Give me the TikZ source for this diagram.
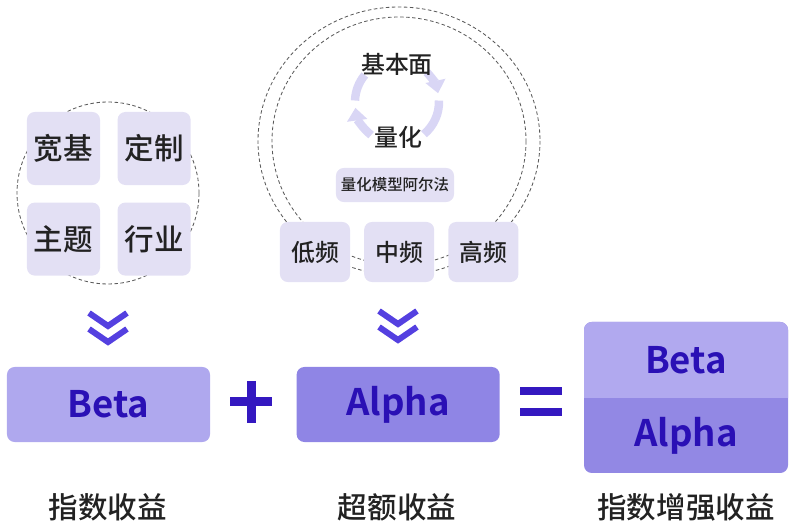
\documentclass[tikz,border=0pt]{standalone}
\usepackage{fontspec}
\setmainfont{Noto Sans CJK SC}[BoldFont={Noto Sans CJK SC Bold}]
\newfontfamily\cjkmed{Noto Sans CJK SC Medium}
\usetikzlibrary{positioning,arrows.meta}

\definecolor{tilefill}{HTML}{E3E0F4}
\definecolor{textdark}{HTML}{222222}
\definecolor{ringgray}{HTML}{5A5A5A}
\definecolor{chevblue}{HTML}{5440E0}
\definecolor{signblue}{HTML}{3418C0}
\definecolor{inkblue}{HTML}{2A10B5}
\definecolor{betafill}{HTML}{AFA8EE}
\definecolor{alphafill}{HTML}{8F85E5}
\definecolor{sumtop}{HTML}{B1A9EF}
\definecolor{sumbot}{HTML}{9288E4}
\definecolor{cyclefill}{HTML}{D9D6F5}

\begin{document}
\begin{tikzpicture}[
    x=0.025cm,y=-0.025cm,
    tile/.style={rectangle,rounded corners=5.5pt,fill=tilefill,minimum width=1.825cm,minimum height=1.825cm,font=\cjkmed\fontsize{21}{25}\selectfont,text=textdark},
    freq/.style={tile,minimum width=1.75cm,minimum height=1.5cm,font=\cjkmed\fontsize{17}{20}\selectfont},
    tag/.style={tile,minimum width=2.95cm,minimum height=0.85cm,font=\cjkmed\fontsize{11}{13}\selectfont},
    ring/.style={draw=ringgray,line width=0.6pt,dash pattern=on 2.5pt off 1.8pt},
    chev/.style={draw=chevblue,line width=4.3pt},
    sign/.style={draw=signblue},
    result/.style={rectangle,rounded corners=5.5pt,minimum width=5.075cm,minimum height=1.875cm,font=\fontsize{26}{30}\selectfont\bfseries,text=inkblue},
    caption/.style={font=\cjkmed\fontsize{21}{25}\selectfont,text=textdark},
    cycle/.style={draw=cyclefill,line width=6pt},
    cycletext/.style={font=\cjkmed\fontsize{17}{20}\selectfont,text=textdark},
  ]
  \useasboundingbox (0,0) rectangle (797,530);

  % left group
  \draw[ring] (108,193) circle[radius=91];
  \node[tile] (kuanji) at (63.5,148.5) {宽基};
  \node[tile,right=0.425cm of kuanji] (dingzhi) {定制};
  \node[tile,below=0.425cm of kuanji] (zhuti) {主题};
  \node[tile,below=0.425cm of dingzhi] (hangye) {行业};

  % middle group
  \draw[ring] (399,141) ellipse[x radius=141,y radius=134];
  \draw[ring] (399,141) ellipse[x radius=127,y radius=124];
  \coordinate (cyc) at (397,102);
  \draw[cycle,-{Triangle[width=14pt,length=9pt]}] (cyc) ++(-45:42) arc[start angle=-45,end angle=-12,radius=42];
  \draw[cycle] (cyc) ++(-2:42) arc[start angle=-2,end angle=50,radius=42];
  \draw[cycle,-{Triangle[width=14pt,length=9pt]}] (cyc) ++(128:42) arc[start angle=128,end angle=172,radius=42];
  \draw[cycle] (cyc) ++(182:42) arc[start angle=182,end angle=220,radius=42];
  \node[cycletext] (jiben) at (397,64) {基本面};
  \node[cycletext] (lianghua) at (398,137) {量化};
  \node[tag] (quanttag) at (395,185) {量化模型阿尔法};
  \node[freq] (dipin) at (315,252) {低频};
  \node[freq,right=0.34cm of dipin] (zhongpin) {中频};
  \node[freq,right=0.34cm of zhongpin] (gaopin) {高频};

  % chevrons
  \draw[chev] (89,313) -- (108,326) -- (127,313);
  \draw[chev] (89,329) -- (108,342) -- (127,329);
  \draw[chev] (379,311) -- (398,324) -- (417,311);
  \draw[chev] (379,327) -- (398,340) -- (417,327);

  % bottom row
  \node[result,fill=betafill] (beta) at (108.5,404.5) {Beta};
  \node[result,fill=alphafill,right=2.15cm of beta] (alpha) {Alpha};
  \draw[sign,line width=6.4pt] (230,402) -- (272,402);
  \draw[sign,line width=6.4pt] (251,381) -- (251,423);
  \draw[sign,line width=5pt] (520,391) -- (562,391);
  \draw[sign,line width=5pt] (520,412) -- (562,412);

  \fill[sumbot,rounded corners=5.5pt] (584,322) rectangle (788,473);
  \begin{scope}
    \clip (584,322) rectangle (788,398);
    \fill[sumtop,rounded corners=5.5pt] (584,322) rectangle (788,473);
  \end{scope}
  \node[result,minimum height=0cm] (sumbeta) at (686,360) {Beta};
  \node[result,minimum height=0cm] (sumalpha) at (686,436) {Alpha};

  \node[caption] (capbeta) at (108,507) {指数收益};
  \node[caption] (capalpha) at (397,507) {超额收益};
  \node[caption] (capsum) at (686,507) {指数增强收益};
\end{tikzpicture}
\end{document}
